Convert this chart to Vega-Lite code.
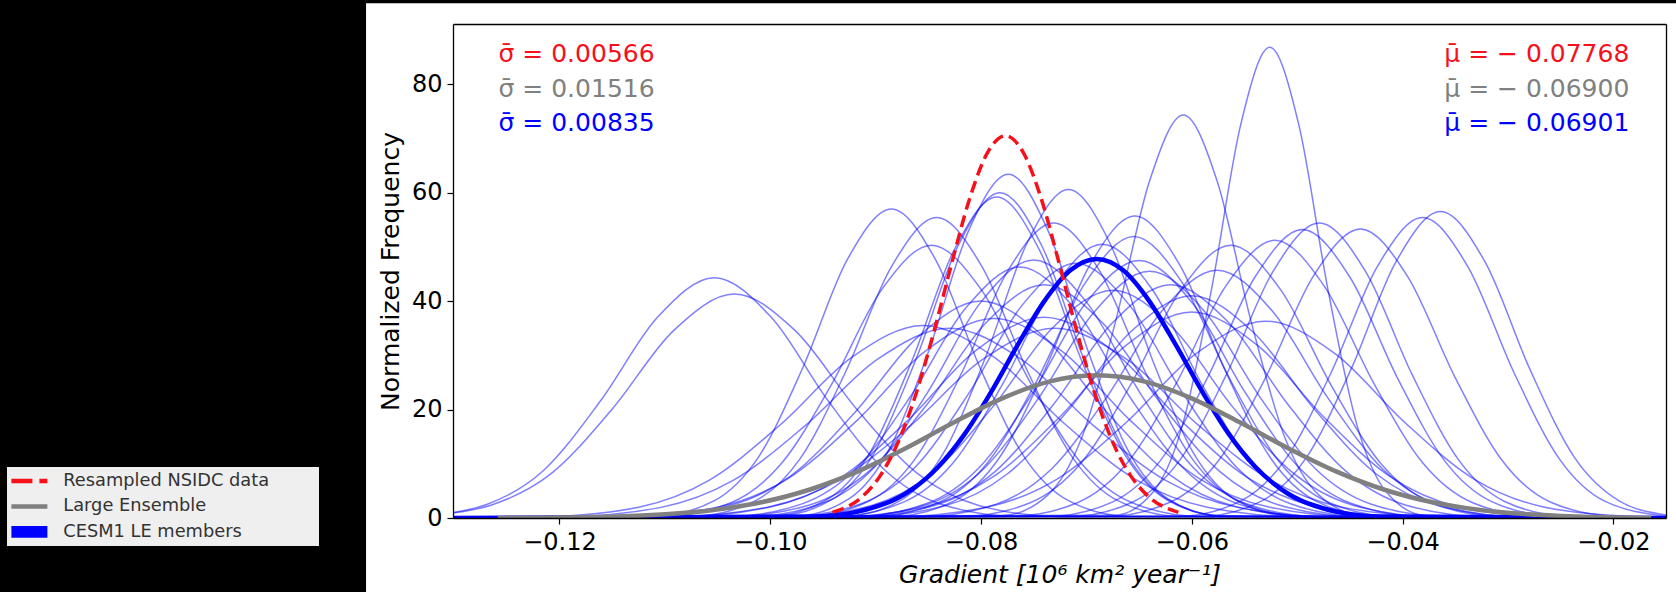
{
"$schema": "https://vega.github.io/schema/vega-lite/v6.json",
"autosize": {"type": "none"},
"width": 1213,
"height": 494,
"padding": {"left": 453, "top": 24, "right": 10, "bottom": 74},
"background": "black",
"config": {"view": {"stroke": null}, "font": "DejaVu Sans"},
"datasets": {
"members": [
{"m":1,"x":-0.1301,"y":1.0},{"m":1,"x":-0.12691,"y":2.49},{"m":1,"x":-0.12151,"y":8.77},{"m":1,"x":-0.11611,"y":21.57},{"m":1,"x":-0.1107,"y":37.0},{"m":1,"x":-0.1053,"y":44.3},{"m":1,"x":-0.0999,"y":37.0},{"m":1,"x":-0.09449,"y":21.57},{"m":1,"x":-0.08909,"y":8.77},{"m":1,"x":-0.08369,"y":2.49},{"m":1,"x":-0.07648,"y":0.27},{"m":1,"x":-0.015,"y":0},
{"m":2,"x":-0.1301,"y":0.91},{"m":2,"x":-0.12658,"y":2.32},{"m":2,"x":-0.12079,"y":8.17},{"m":2,"x":-0.11499,"y":20.1},{"m":2,"x":-0.1092,"y":34.5},{"m":2,"x":-0.1034,"y":41.3},{"m":2,"x":-0.0976,"y":34.5},{"m":2,"x":-0.09181,"y":20.1},{"m":2,"x":-0.08601,"y":8.17},{"m":2,"x":-0.08022,"y":2.32},{"m":2,"x":-0.07249,"y":0.25},{"m":2,"x":-0.015,"y":0},
{"m":3,"x":-0.1301,"y":0},{"m":3,"x":-0.1109,"y":0.34},{"m":3,"x":-0.1053,"y":3.2},{"m":3,"x":-0.1011,"y":11.28},{"m":3,"x":-0.0969,"y":27.75},{"m":3,"x":-0.0927,"y":47.61},{"m":3,"x":-0.0885,"y":57.0},{"m":3,"x":-0.0843,"y":47.61},{"m":3,"x":-0.0801,"y":27.75},{"m":3,"x":-0.0759,"y":11.28},{"m":3,"x":-0.0717,"y":3.2},{"m":3,"x":-0.0661,"y":0.34},{"m":3,"x":-0.015,"y":0},
{"m":4,"x":-0.1301,"y":0},{"m":4,"x":-0.10724,"y":0.33},{"m":4,"x":-0.10148,"y":3.11},{"m":4,"x":-0.09716,"y":10.96},{"m":4,"x":-0.09284,"y":26.97},{"m":4,"x":-0.08852,"y":46.28},{"m":4,"x":-0.0842,"y":55.4},{"m":4,"x":-0.07988,"y":46.28},{"m":4,"x":-0.07556,"y":26.97},{"m":4,"x":-0.07124,"y":10.96},{"m":4,"x":-0.06692,"y":3.11},{"m":4,"x":-0.06116,"y":0.33},{"m":4,"x":-0.015,"y":0},
{"m":5,"x":-0.1301,"y":0},{"m":5,"x":-0.11008,"y":0.3},{"m":5,"x":-0.10373,"y":2.82},{"m":5,"x":-0.09898,"y":9.95},{"m":5,"x":-0.09422,"y":24.49},{"m":5,"x":-0.08946,"y":42.02},{"m":5,"x":-0.0847,"y":50.3},{"m":5,"x":-0.07994,"y":42.02},{"m":5,"x":-0.07518,"y":24.49},{"m":5,"x":-0.07042,"y":9.95},{"m":5,"x":-0.06567,"y":2.82},{"m":5,"x":-0.05932,"y":0.3},{"m":5,"x":-0.015,"y":0},
{"m":6,"x":-0.1301,"y":0},{"m":6,"x":-0.09754,"y":0.38},{"m":6,"x":-0.0925,"y":3.56},{"m":6,"x":-0.08873,"y":12.55},{"m":6,"x":-0.08495,"y":30.86},{"m":6,"x":-0.08118,"y":52.96},{"m":6,"x":-0.0774,"y":63.4},{"m":6,"x":-0.07363,"y":52.96},{"m":6,"x":-0.06985,"y":30.86},{"m":6,"x":-0.06607,"y":12.55},{"m":6,"x":-0.0623,"y":3.56},{"m":6,"x":-0.05727,"y":0.38},{"m":6,"x":-0.015,"y":0},
{"m":7,"x":-0.1301,"y":0},{"m":7,"x":-0.09948,"y":0.36},{"m":7,"x":-0.09416,"y":3.37},{"m":7,"x":-0.09017,"y":11.87},{"m":7,"x":-0.08618,"y":29.21},{"m":7,"x":-0.08219,"y":50.12},{"m":7,"x":-0.0782,"y":60.0},{"m":7,"x":-0.07421,"y":50.12},{"m":7,"x":-0.07022,"y":29.21},{"m":7,"x":-0.06623,"y":11.87},{"m":7,"x":-0.06224,"y":3.37},{"m":7,"x":-0.05692,"y":0.36},{"m":7,"x":-0.015,"y":0},
{"m":8,"x":-0.1301,"y":0},{"m":8,"x":-0.10007,"y":0.36},{"m":8,"x":-0.09467,"y":3.32},{"m":8,"x":-0.09063,"y":11.72},{"m":8,"x":-0.08659,"y":28.82},{"m":8,"x":-0.08254,"y":49.45},{"m":8,"x":-0.0785,"y":59.2},{"m":8,"x":-0.07446,"y":49.45},{"m":8,"x":-0.07041,"y":28.82},{"m":8,"x":-0.06637,"y":11.72},{"m":8,"x":-0.06233,"y":3.32},{"m":8,"x":-0.05694,"y":0.36},{"m":8,"x":-0.015,"y":0},
{"m":9,"x":-0.1301,"y":0},{"m":9,"x":-0.09277,"y":0.36},{"m":9,"x":-0.0875,"y":3.4},{"m":9,"x":-0.08355,"y":11.99},{"m":9,"x":-0.0796,"y":29.5},{"m":9,"x":-0.07565,"y":50.62},{"m":9,"x":-0.0717,"y":60.6},{"m":9,"x":-0.06775,"y":50.62},{"m":9,"x":-0.0638,"y":29.5},{"m":9,"x":-0.05985,"y":11.99},{"m":9,"x":-0.0559,"y":3.4},{"m":9,"x":-0.05063,"y":0.36},{"m":9,"x":-0.015,"y":0},
{"m":10,"x":-0.1301,"y":0},{"m":10,"x":-0.09657,"y":0.33},{"m":10,"x":-0.0907,"y":3.05},{"m":10,"x":-0.0863,"y":10.77},{"m":10,"x":-0.0819,"y":26.48},{"m":10,"x":-0.0775,"y":45.44},{"m":10,"x":-0.0731,"y":54.4},{"m":10,"x":-0.0687,"y":45.44},{"m":10,"x":-0.0643,"y":26.48},{"m":10,"x":-0.0599,"y":10.77},{"m":10,"x":-0.0555,"y":3.05},{"m":10,"x":-0.04963,"y":0.33},{"m":10,"x":-0.015,"y":0},
{"m":11,"x":-0.1301,"y":0},{"m":11,"x":-0.08832,"y":0.33},{"m":11,"x":-0.08259,"y":3.12},{"m":11,"x":-0.07829,"y":11.02},{"m":11,"x":-0.07399,"y":27.11},{"m":11,"x":-0.0697,"y":46.53},{"m":11,"x":-0.0654,"y":55.7},{"m":11,"x":-0.0611,"y":46.53},{"m":11,"x":-0.05681,"y":27.11},{"m":11,"x":-0.05251,"y":11.02},{"m":11,"x":-0.04821,"y":3.12},{"m":11,"x":-0.04248,"y":0.33},{"m":11,"x":-0.015,"y":0},
{"m":12,"x":-0.1301,"y":0},{"m":12,"x":-0.07798,"y":0.45},{"m":12,"x":-0.07369,"y":4.17},{"m":12,"x":-0.07046,"y":14.7},{"m":12,"x":-0.06724,"y":36.17},{"m":12,"x":-0.06402,"y":62.06},{"m":12,"x":-0.0608,"y":74.3},{"m":12,"x":-0.05758,"y":62.06},{"m":12,"x":-0.05436,"y":36.17},{"m":12,"x":-0.05114,"y":14.7},{"m":12,"x":-0.04791,"y":4.17},{"m":12,"x":-0.04362,"y":0.45},{"m":12,"x":-0.015,"y":0},
{"m":13,"x":-0.1301,"y":0},{"m":13,"x":-0.06731,"y":0.52},{"m":13,"x":-0.06363,"y":4.87},{"m":13,"x":-0.06087,"y":17.18},{"m":13,"x":-0.05812,"y":42.25},{"m":13,"x":-0.05536,"y":72.5},{"m":13,"x":-0.0526,"y":86.8},{"m":13,"x":-0.04984,"y":72.5},{"m":13,"x":-0.04709,"y":42.25},{"m":13,"x":-0.04433,"y":17.18},{"m":13,"x":-0.04157,"y":4.87},{"m":13,"x":-0.03789,"y":0.52},{"m":13,"x":-0.015,"y":0},
{"m":14,"x":-0.1301,"y":0},{"m":14,"x":-0.07137,"y":0.33},{"m":14,"x":-0.0655,"y":3.05},{"m":14,"x":-0.0611,"y":10.77},{"m":14,"x":-0.0567,"y":26.48},{"m":14,"x":-0.0523,"y":45.44},{"m":14,"x":-0.0479,"y":54.4},{"m":14,"x":-0.0435,"y":45.44},{"m":14,"x":-0.0391,"y":26.48},{"m":14,"x":-0.0347,"y":10.77},{"m":14,"x":-0.0303,"y":3.05},{"m":14,"x":-0.02443,"y":0.33},{"m":14,"x":-0.015,"y":0},
{"m":15,"x":-0.1301,"y":0},{"m":15,"x":-0.0735,"y":0.32},{"m":15,"x":-0.0675,"y":2.98},{"m":15,"x":-0.063,"y":10.53},{"m":15,"x":-0.0585,"y":25.9},{"m":15,"x":-0.054,"y":44.44},{"m":15,"x":-0.0495,"y":53.2},{"m":15,"x":-0.045,"y":44.44},{"m":15,"x":-0.0405,"y":25.9},{"m":15,"x":-0.036,"y":10.53},{"m":15,"x":-0.0315,"y":2.98},{"m":15,"x":-0.0255,"y":0.32},{"m":15,"x":-0.015,"y":0},
{"m":16,"x":-0.1301,"y":0},{"m":16,"x":-0.07703,"y":0.31},{"m":16,"x":-0.0708,"y":2.87},{"m":16,"x":-0.06613,"y":10.13},{"m":16,"x":-0.06145,"y":24.92},{"m":16,"x":-0.05678,"y":42.77},{"m":16,"x":-0.0521,"y":51.2},{"m":16,"x":-0.04743,"y":42.77},{"m":16,"x":-0.04275,"y":24.92},{"m":16,"x":-0.03807,"y":10.13},{"m":16,"x":-0.0334,"y":2.87},{"m":16,"x":-0.02717,"y":0.31},{"m":16,"x":-0.015,"y":0},
{"m":17,"x":-0.1301,"y":0},{"m":17,"x":-0.06795,"y":0.32},{"m":17,"x":-0.06196,"y":2.99},{"m":17,"x":-0.05747,"y":10.55},{"m":17,"x":-0.05298,"y":25.95},{"m":17,"x":-0.04849,"y":44.52},{"m":17,"x":-0.044,"y":53.3},{"m":17,"x":-0.03951,"y":44.52},{"m":17,"x":-0.03502,"y":25.95},{"m":17,"x":-0.03053,"y":10.55},{"m":17,"x":-0.02604,"y":2.99},{"m":17,"x":-0.02005,"y":0.32},{"m":17,"x":-0.015,"y":0},
{"m":18,"x":-0.1301,"y":0},{"m":18,"x":-0.06114,"y":0.33},{"m":18,"x":-0.05538,"y":3.11},{"m":18,"x":-0.05106,"y":10.96},{"m":18,"x":-0.04674,"y":26.97},{"m":18,"x":-0.04242,"y":46.28},{"m":18,"x":-0.0381,"y":55.4},{"m":18,"x":-0.03378,"y":46.28},{"m":18,"x":-0.02946,"y":26.97},{"m":18,"x":-0.02514,"y":10.96},{"m":18,"x":-0.02082,"y":3.11},{"m":18,"x":-0.015,"y":0.33},
{"m":19,"x":-0.1301,"y":0},{"m":19,"x":-0.059,"y":0.34},{"m":19,"x":-0.05335,"y":3.17},{"m":19,"x":-0.04911,"y":11.18},{"m":19,"x":-0.04487,"y":27.5},{"m":19,"x":-0.04064,"y":47.19},{"m":19,"x":-0.0364,"y":56.5},{"m":19,"x":-0.03216,"y":47.19},{"m":19,"x":-0.02793,"y":27.5},{"m":19,"x":-0.02369,"y":11.18},{"m":19,"x":-0.01945,"y":3.17},{"m":19,"x":-0.015,"y":0.57},
{"m":20,"x":-0.1301,"y":0},{"m":20,"x":-0.08168,"y":0.3},{"m":20,"x":-0.07533,"y":2.82},{"m":20,"x":-0.07058,"y":9.95},{"m":20,"x":-0.06582,"y":24.49},{"m":20,"x":-0.06106,"y":42.02},{"m":20,"x":-0.0563,"y":50.3},{"m":20,"x":-0.05154,"y":42.02},{"m":20,"x":-0.04678,"y":24.49},{"m":20,"x":-0.04202,"y":9.95},{"m":20,"x":-0.03727,"y":2.82},{"m":20,"x":-0.03092,"y":0.3},{"m":20,"x":-0.015,"y":0},
{"m":21,"x":-0.1301,"y":0},{"m":21,"x":-0.08817,"y":0.22},{"m":21,"x":-0.07938,"y":2.04},{"m":21,"x":-0.07278,"y":7.18},{"m":21,"x":-0.06619,"y":17.67},{"m":21,"x":-0.05959,"y":30.32},{"m":21,"x":-0.053,"y":36.3},{"m":21,"x":-0.04641,"y":30.32},{"m":21,"x":-0.03981,"y":17.67},{"m":21,"x":-0.03322,"y":7.18},{"m":21,"x":-0.02662,"y":2.04},{"m":21,"x":-0.01783,"y":0.22},{"m":21,"x":-0.015,"y":0},
{"m":22,"x":-0.1301,"y":0},{"m":22,"x":-0.09378,"y":0.3},{"m":22,"x":-0.08746,"y":2.83},{"m":22,"x":-0.08272,"y":9.99},{"m":22,"x":-0.07798,"y":24.58},{"m":22,"x":-0.07324,"y":42.18},{"m":22,"x":-0.0685,"y":50.5},{"m":22,"x":-0.06376,"y":42.18},{"m":22,"x":-0.05902,"y":24.58},{"m":22,"x":-0.05428,"y":9.99},{"m":22,"x":-0.04954,"y":2.83},{"m":22,"x":-0.04322,"y":0.3},{"m":22,"x":-0.015,"y":0},
{"m":23,"x":-0.1301,"y":0},{"m":23,"x":-0.0901,"y":0.31},{"m":23,"x":-0.08395,"y":2.91},{"m":23,"x":-0.07934,"y":10.27},{"m":23,"x":-0.07472,"y":25.26},{"m":23,"x":-0.07011,"y":43.35},{"m":23,"x":-0.0655,"y":51.9},{"m":23,"x":-0.06089,"y":43.35},{"m":23,"x":-0.05628,"y":25.26},{"m":23,"x":-0.05166,"y":10.27},{"m":23,"x":-0.04705,"y":2.91},{"m":23,"x":-0.0409,"y":0.31},{"m":23,"x":-0.015,"y":0},
{"m":24,"x":-0.1301,"y":0},{"m":24,"x":-0.10182,"y":0.29},{"m":24,"x":-0.09511,"y":2.67},{"m":24,"x":-0.09009,"y":9.42},{"m":24,"x":-0.08506,"y":23.17},{"m":24,"x":-0.08003,"y":39.76},{"m":24,"x":-0.075,"y":47.6},{"m":24,"x":-0.06997,"y":39.76},{"m":24,"x":-0.06494,"y":23.17},{"m":24,"x":-0.05991,"y":9.42},{"m":24,"x":-0.05489,"y":2.67},{"m":24,"x":-0.04818,"y":0.29},{"m":24,"x":-0.015,"y":0},
{"m":25,"x":-0.1301,"y":0},{"m":25,"x":-0.10387,"y":0.28},{"m":25,"x":-0.09698,"y":2.6},{"m":25,"x":-0.09181,"y":9.16},{"m":25,"x":-0.08664,"y":22.54},{"m":25,"x":-0.08147,"y":38.67},{"m":25,"x":-0.0763,"y":46.3},{"m":25,"x":-0.07113,"y":38.67},{"m":25,"x":-0.06596,"y":22.54},{"m":25,"x":-0.06079,"y":9.16},{"m":25,"x":-0.05562,"y":2.6},{"m":25,"x":-0.04873,"y":0.28},{"m":25,"x":-0.015,"y":0},
{"m":26,"x":-0.1301,"y":0},{"m":26,"x":-0.12146,"y":0.21},{"m":26,"x":-0.11247,"y":1.99},{"m":26,"x":-0.10573,"y":7.03},{"m":26,"x":-0.09899,"y":17.28},{"m":26,"x":-0.09224,"y":29.65},{"m":26,"x":-0.0855,"y":35.5},{"m":26,"x":-0.07876,"y":29.65},{"m":26,"x":-0.07201,"y":17.28},{"m":26,"x":-0.06527,"y":7.03},{"m":26,"x":-0.05853,"y":1.99},{"m":26,"x":-0.04954,"y":0.21},{"m":26,"x":-0.015,"y":0},
{"m":27,"x":-0.1301,"y":0},{"m":27,"x":-0.11947,"y":0.21},{"m":27,"x":-0.11036,"y":1.96},{"m":27,"x":-0.10352,"y":6.93},{"m":27,"x":-0.09668,"y":17.04},{"m":27,"x":-0.08984,"y":29.24},{"m":27,"x":-0.083,"y":35.0},{"m":27,"x":-0.07616,"y":29.24},{"m":27,"x":-0.06932,"y":17.04},{"m":27,"x":-0.06248,"y":6.93},{"m":27,"x":-0.05565,"y":1.96},{"m":27,"x":-0.04653,"y":0.21},{"m":27,"x":-0.015,"y":0},
{"m":28,"x":-0.1301,"y":0},{"m":28,"x":-0.11349,"y":0.22},{"m":28,"x":-0.10482,"y":2.06},{"m":28,"x":-0.09831,"y":7.28},{"m":28,"x":-0.09181,"y":17.91},{"m":28,"x":-0.08531,"y":30.74},{"m":28,"x":-0.0788,"y":36.8},{"m":28,"x":-0.0723,"y":30.74},{"m":28,"x":-0.06579,"y":17.91},{"m":28,"x":-0.05929,"y":7.28},{"m":28,"x":-0.05278,"y":2.06},{"m":28,"x":-0.04411,"y":0.22},{"m":28,"x":-0.015,"y":0},
{"m":29,"x":-0.1301,"y":0},{"m":29,"x":-0.08554,"y":0.27},{"m":29,"x":-0.07855,"y":2.56},{"m":29,"x":-0.07331,"y":9.04},{"m":29,"x":-0.06808,"y":22.25},{"m":29,"x":-0.06284,"y":38.17},{"m":29,"x":-0.0576,"y":45.7},{"m":29,"x":-0.05236,"y":38.17},{"m":29,"x":-0.04712,"y":22.25},{"m":29,"x":-0.04189,"y":9.04},{"m":29,"x":-0.03665,"y":2.56},{"m":29,"x":-0.02966,"y":0.27},{"m":29,"x":-0.015,"y":0},
{"m":30,"x":-0.1301,"y":0},{"m":30,"x":-0.09816,"y":0.28},{"m":30,"x":-0.09137,"y":2.64},{"m":30,"x":-0.08628,"y":9.3},{"m":30,"x":-0.08119,"y":22.88},{"m":30,"x":-0.07609,"y":39.26},{"m":30,"x":-0.071,"y":47.0},{"m":30,"x":-0.06591,"y":39.26},{"m":30,"x":-0.06081,"y":22.88},{"m":30,"x":-0.05572,"y":9.3},{"m":30,"x":-0.05063,"y":2.64},{"m":30,"x":-0.04384,"y":0.28},{"m":30,"x":-0.015,"y":0},
{"m":31,"x":-0.1301,"y":0},{"m":31,"x":-0.09188,"y":0.29},{"m":31,"x":-0.08516,"y":2.66},{"m":31,"x":-0.08012,"y":9.4},{"m":31,"x":-0.07508,"y":23.12},{"m":31,"x":-0.07004,"y":39.68},{"m":31,"x":-0.065,"y":47.5},{"m":31,"x":-0.05996,"y":39.68},{"m":31,"x":-0.05492,"y":23.12},{"m":31,"x":-0.04988,"y":9.4},{"m":31,"x":-0.04484,"y":2.66},{"m":31,"x":-0.03812,"y":0.29},{"m":31,"x":-0.015,"y":0},
{"m":32,"x":-0.1301,"y":0},{"m":32,"x":-0.09206,"y":0.27},{"m":32,"x":-0.08504,"y":2.55},{"m":32,"x":-0.07978,"y":9.0},{"m":32,"x":-0.07452,"y":22.15},{"m":32,"x":-0.06926,"y":38.01},{"m":32,"x":-0.064,"y":45.5},{"m":32,"x":-0.05874,"y":38.01},{"m":32,"x":-0.05348,"y":22.15},{"m":32,"x":-0.04822,"y":9.0},{"m":32,"x":-0.04296,"y":2.55},{"m":32,"x":-0.03594,"y":0.27},{"m":32,"x":-0.015,"y":0},
{"m":33,"x":-0.1301,"y":0},{"m":33,"x":-0.09169,"y":0.26},{"m":33,"x":-0.08427,"y":2.41},{"m":33,"x":-0.0787,"y":8.51},{"m":33,"x":-0.07313,"y":20.93},{"m":33,"x":-0.06757,"y":35.92},{"m":33,"x":-0.062,"y":43.0},{"m":33,"x":-0.05643,"y":35.92},{"m":33,"x":-0.05087,"y":20.93},{"m":33,"x":-0.0453,"y":8.51},{"m":33,"x":-0.03973,"y":2.41},{"m":33,"x":-0.03231,"y":0.26},{"m":33,"x":-0.015,"y":0},
{"m":34,"x":-0.1301,"y":0},{"m":34,"x":-0.10369,"y":0.26},{"m":34,"x":-0.09627,"y":2.41},{"m":34,"x":-0.0907,"y":8.51},{"m":34,"x":-0.08513,"y":20.93},{"m":34,"x":-0.07957,"y":35.92},{"m":34,"x":-0.074,"y":43.0},{"m":34,"x":-0.06843,"y":35.92},{"m":34,"x":-0.06287,"y":20.93},{"m":34,"x":-0.0573,"y":8.51},{"m":34,"x":-0.05173,"y":2.41},{"m":34,"x":-0.04431,"y":0.26},{"m":34,"x":-0.015,"y":0},
{"m":35,"x":-0.1301,"y":0},{"m":35,"x":-0.0979,"y":0.25},{"m":35,"x":-0.0903,"y":2.36},{"m":35,"x":-0.0846,"y":8.31},{"m":35,"x":-0.0789,"y":20.45},{"m":35,"x":-0.0732,"y":35.08},{"m":35,"x":-0.0675,"y":42.0},{"m":35,"x":-0.0618,"y":35.08},{"m":35,"x":-0.0561,"y":20.45},{"m":35,"x":-0.0504,"y":8.31},{"m":35,"x":-0.0447,"y":2.36},{"m":35,"x":-0.0371,"y":0.25},{"m":35,"x":-0.015,"y":0},
{"m":36,"x":-0.1301,"y":0},{"m":36,"x":-0.11192,"y":0.24},{"m":36,"x":-0.10394,"y":2.24},{"m":36,"x":-0.09795,"y":7.92},{"m":36,"x":-0.09197,"y":19.47},{"m":36,"x":-0.08598,"y":33.41},{"m":36,"x":-0.08,"y":40.0},{"m":36,"x":-0.07402,"y":33.41},{"m":36,"x":-0.06803,"y":19.47},{"m":36,"x":-0.06205,"y":7.92},{"m":36,"x":-0.05606,"y":2.24},{"m":36,"x":-0.04808,"y":0.24},{"m":36,"x":-0.015,"y":0},
{"m":37,"x":-0.1301,"y":0},{"m":37,"x":-0.1085,"y":0.22},{"m":37,"x":-0.09988,"y":2.08},{"m":37,"x":-0.09341,"y":7.32},{"m":37,"x":-0.08694,"y":18.01},{"m":37,"x":-0.08047,"y":30.91},{"m":37,"x":-0.074,"y":37.0},{"m":37,"x":-0.06753,"y":30.91},{"m":37,"x":-0.06106,"y":18.01},{"m":37,"x":-0.05459,"y":7.32},{"m":37,"x":-0.04812,"y":2.08},{"m":37,"x":-0.0395,"y":0.22},{"m":37,"x":-0.015,"y":0},
{"m":38,"x":-0.1301,"y":0},{"m":38,"x":-0.09114,"y":0.25},{"m":38,"x":-0.08335,"y":2.3},{"m":38,"x":-0.07751,"y":8.11},{"m":38,"x":-0.07168,"y":19.96},{"m":38,"x":-0.06584,"y":34.25},{"m":38,"x":-0.06,"y":41.0},{"m":38,"x":-0.05416,"y":34.25},{"m":38,"x":-0.04832,"y":19.96},{"m":38,"x":-0.04249,"y":8.11},{"m":38,"x":-0.03665,"y":2.3},{"m":38,"x":-0.02886,"y":0.25},{"m":38,"x":-0.015,"y":0},
{"m":39,"x":-0.1301,"y":0},{"m":39,"x":-0.10947,"y":0.21},{"m":39,"x":-0.10036,"y":1.96},{"m":39,"x":-0.09352,"y":6.93},{"m":39,"x":-0.08668,"y":17.04},{"m":39,"x":-0.07984,"y":29.24},{"m":39,"x":-0.073,"y":35.0},{"m":39,"x":-0.06616,"y":29.24},{"m":39,"x":-0.05932,"y":17.04},{"m":39,"x":-0.05248,"y":6.93},{"m":39,"x":-0.04565,"y":1.96},{"m":39,"x":-0.03653,"y":0.21},{"m":39,"x":-0.015,"y":0},
{"m":40,"x":-0.1301,"y":0},{"m":40,"x":-0.09359,"y":0.23},{"m":40,"x":-0.0852,"y":2.13},{"m":40,"x":-0.0789,"y":7.52},{"m":40,"x":-0.0726,"y":18.5},{"m":40,"x":-0.0663,"y":31.74},{"m":40,"x":-0.06,"y":38.0},{"m":40,"x":-0.0537,"y":31.74},{"m":40,"x":-0.0474,"y":18.5},{"m":40,"x":-0.0411,"y":7.52},{"m":40,"x":-0.0348,"y":2.13},{"m":40,"x":-0.0264,"y":0.23},{"m":40,"x":-0.015,"y":0}
],
"mean": [
{"x":-0.1301,"y":0},{"x":-0.09573,"y":0.29},{"x":-0.08905,"y":2.68},{"x":-0.08655,"y":5.27},{"x":-0.08404,"y":9.46},{"x":-0.08154,"y":15.51},{"x":-0.07903,"y":23.26},{"x":-0.07653,"y":31.87},{"x":-0.07402,"y":39.91},{"x":-0.07152,"y":45.68},{"x":-0.06901,"y":47.78},{"x":-0.0665,"y":45.68},{"x":-0.064,"y":39.91},{"x":-0.0615,"y":31.87},{"x":-0.05899,"y":23.26},{"x":-0.05649,"y":15.51},{"x":-0.05398,"y":9.46},{"x":-0.05148,"y":5.27},{"x":-0.04897,"y":2.68},{"x":-0.04229,"y":0.29},{"x":-0.015,"y":0}
],
"pooled": [
{"x":-0.12585,"y":0.02},{"x":-0.11448,"y":0.29},{"x":-0.10993,"y":0.69},{"x":-0.10538,"y":1.48},{"x":-0.10084,"y":2.9},{"x":-0.09629,"y":5.21},{"x":-0.09174,"y":8.54},{"x":-0.08719,"y":12.81},{"x":-0.08264,"y":17.55},{"x":-0.0781,"y":21.98},{"x":-0.07355,"y":25.15},{"x":-0.069,"y":26.31},{"x":-0.06445,"y":25.15},{"x":-0.0599,"y":21.98},{"x":-0.05536,"y":17.55},{"x":-0.05081,"y":12.81},{"x":-0.04626,"y":8.54},{"x":-0.04171,"y":5.21},{"x":-0.03716,"y":2.9},{"x":-0.03262,"y":1.48},{"x":-0.02807,"y":0.69},{"x":-0.02352,"y":0.29},{"x":-0.0164,"y":0.06}
],
"obs": [
{"x":-0.09409,"y":1.05},{"x":-0.09126,"y":3.95},{"x":-0.08957,"y":7.77},{"x":-0.08787,"y":13.95},{"x":-0.08617,"y":22.88},{"x":-0.08447,"y":34.31},{"x":-0.08277,"y":47.01},{"x":-0.08108,"y":58.87},{"x":-0.07938,"y":67.38},{"x":-0.07768,"y":70.48},{"x":-0.07598,"y":67.38},{"x":-0.07428,"y":58.87},{"x":-0.07259,"y":47.01},{"x":-0.07089,"y":34.31},{"x":-0.06919,"y":22.88},{"x":-0.06749,"y":13.95},{"x":-0.06579,"y":7.77},{"x":-0.0641,"y":3.95},{"x":-0.06127,"y":1.05}
],
"notes": [
{"label":"σ̄ = 0.00566","series":"Resampled NSIDC data","side":"left","x":-0.12578,"y":85.6},
{"label":"σ̄ = 0.01516","series":"Large Ensemble","side":"left","x":-0.12578,"y":79.2},
{"label":"σ̄ = 0.00835","series":"CESM1 LE members","side":"left","x":-0.12578,"y":72.8},
{"label":"μ̄ = − 0.07768","series":"Resampled NSIDC data","side":"right","x":-0.01848,"y":85.6},
{"label":"μ̄ = − 0.06900","series":"Large Ensemble","side":"right","x":-0.01848,"y":79.2},
{"label":"μ̄ = − 0.06901","series":"CESM1 LE members","side":"right","x":-0.01848,"y":72.8}
]
},
"layer": [
{
"data": {"values": [{}]},
"mark": {"type": "rect", "fill": "white", "clip": false},
"encoding": {
"x": {"datum": -0.13835, "type": "quantitative", "scale": {"domain": [-0.1301, -0.015], "nice": false, "zero": false}, "axis": null},
"x2": {"datum": -0.0139},
"y": {"datum": 94.94, "type": "quantitative", "scale": {"domain": [0, 91.1], "nice": false, "zero": false}, "axis": null},
"y2": {"datum": -15}
}
},
{
"data": {"name": "members"},
"mark": {"type": "line", "interpolate": "monotone", "strokeWidth": 1.5, "opacity": 0.5, "clip": true},
"encoding": {
"x": {"field": "x", "type": "quantitative", "scale": {"domain": [-0.1301, -0.015], "nice": false, "zero": false},
"axis": {"values": [-0.12, -0.1, -0.08, -0.06, -0.04, -0.02], "format": ".2f", "grid": false, "title": "Gradient [10⁶ km² year⁻¹]", "titleFontStyle": "italic", "titleFontWeight": "normal", "titleFontSize": 25, "titleColor": "black", "titlePadding": 8, "labelFontSize": 24, "labelColor": "black", "labelPadding": 6, "tickSize": 6, "tickColor": "black", "tickWidth": 1.2, "domainColor": "black", "domainWidth": 1.3, "zindex": 1, "labelFlush": false, "labelOverlap": false}},
"y": {"field": "y", "type": "quantitative", "scale": {"domain": [0, 91.1], "nice": false, "zero": false},
"axis": {"values": [0, 20, 40, 60, 80], "grid": false, "title": "Normalized Frequency", "titleFontWeight": "normal", "titleFontSize": 25, "titleColor": "black", "titlePadding": 8, "labelFontSize": 24, "labelColor": "black", "labelPadding": 5, "tickSize": 6, "tickColor": "black", "tickWidth": 1.2, "domainColor": "black", "domainWidth": 1.3, "zindex": 1, "labelOverlap": false}},
"detail": {"field": "m", "type": "nominal"},
"color": {"datum": "CESM1 LE members", "type": "nominal", "title": null,
"scale": {"domain": ["Resampled NSIDC data", "Large Ensemble", "CESM1 LE members"], "range": ["#f5101c", "#808080", "#0000ff"]},
"legend": {"orient": "none", "legendX": -446, "legendY": 443, "title": null, "fillColor": "#efefef", "padding": 5, "labelFont": "DejaVu Sans", "labelFontSize": 17.8, "labelColor": "#333333", "labelLimit": 600, "symbolSize": 1296, "symbolType": "stroke", "symbolStrokeWidth": 4.5, "symbolOpacity": 1, "symbolOffset": 8.5, "labelOffset": 25, "rowPadding": 6.5,
"encode": {
"labels": {"update": {"text": {"signal": "datum.label + '\u2003\u2003\u2002\u200b'"}}},
"symbols": {"update": {
"opacity": {"value": 1},
"shape": {"signal": "datum.value === 'CESM1 LE members' ? 'M-1,-0.33H1V0.33H-1Z' : 'stroke'"},
"fill": {"signal": "datum.value === 'CESM1 LE members' ? '#0000ff' : 'transparent'"},
"strokeWidth": {"signal": "datum.value === 'CESM1 LE members' ? 0 : 4.5"},
"strokeDash": {"signal": "datum.value === 'Resampled NSIDC data' ? [21, 7] : [1, 0]"}
}}}}}
}
},
{
"data": {"name": "mean"},
"mark": {"type": "line", "interpolate": "monotone", "strokeWidth": 4.5, "color": "#0000ff", "clip": true},
"encoding": {
"x": {"field": "x", "type": "quantitative", "scale": {"domain": [-0.1301, -0.015], "nice": false, "zero": false},
"axis": {"orient": "top", "labels": false, "ticks": false, "title": null, "grid": false, "domainColor": "black", "domainWidth": 1.3, "zindex": 1}},
"y": {"field": "y", "type": "quantitative", "scale": {"domain": [0, 91.1], "nice": false, "zero": false},
"axis": {"orient": "right", "labels": false, "ticks": false, "title": null, "grid": false, "domainColor": "black", "domainWidth": 1.3, "zindex": 1}}
}
},
{
"data": {"name": "pooled"},
"mark": {"type": "line", "interpolate": "monotone", "strokeWidth": 4.5, "color": "#808080", "clip": true},
"encoding": {
"x": {"field": "x", "type": "quantitative", "scale": {"domain": [-0.1301, -0.015], "nice": false, "zero": false}, "axis": null},
"y": {"field": "y", "type": "quantitative", "scale": {"domain": [0, 91.1], "nice": false, "zero": false}, "axis": null}
}
},
{
"data": {"name": "obs"},
"mark": {"type": "line", "interpolate": "monotone", "strokeWidth": 3.5, "strokeDash": [12, 6], "color": "#f5101c", "clip": true},
"encoding": {
"x": {"field": "x", "type": "quantitative", "scale": {"domain": [-0.1301, -0.015], "nice": false, "zero": false}, "axis": null},
"y": {"field": "y", "type": "quantitative", "scale": {"domain": [0, 91.1], "nice": false, "zero": false}, "axis": null}
}
},
{
"data": {"name": "notes"},
"transform": [{"filter": "datum.side === 'left'"}],
"mark": {"type": "text", "align": "left", "baseline": "middle", "fontSize": 25, "font": "DejaVu Sans"},
"encoding": {
"x": {"field": "x", "type": "quantitative", "scale": {"domain": [-0.1301, -0.015], "nice": false, "zero": false}, "axis": null},
"y": {"field": "y", "type": "quantitative", "scale": {"domain": [0, 91.1], "nice": false, "zero": false}, "axis": null},
"text": {"field": "label"},
"fill": {"field": "series", "type": "nominal", "scale": {"domain": ["Resampled NSIDC data", "Large Ensemble", "CESM1 LE members"], "range": ["#f5101c", "#808080", "#0000ff"]}, "legend": null}
}
},
{
"data": {"name": "notes"},
"transform": [{"filter": "datum.side === 'right'"}],
"mark": {"type": "text", "align": "right", "baseline": "middle", "fontSize": 25, "font": "DejaVu Sans"},
"encoding": {
"x": {"field": "x", "type": "quantitative", "scale": {"domain": [-0.1301, -0.015], "nice": false, "zero": false}, "axis": null},
"y": {"field": "y", "type": "quantitative", "scale": {"domain": [0, 91.1], "nice": false, "zero": false}, "axis": null},
"text": {"field": "label"},
"fill": {"field": "series", "type": "nominal", "scale": {"domain": ["Resampled NSIDC data", "Large Ensemble", "CESM1 LE members"], "range": ["#f5101c", "#808080", "#0000ff"]}, "legend": null}
}
}
],
"resolve": {"axis": {"x": "independent", "y": "independent"}}
}
